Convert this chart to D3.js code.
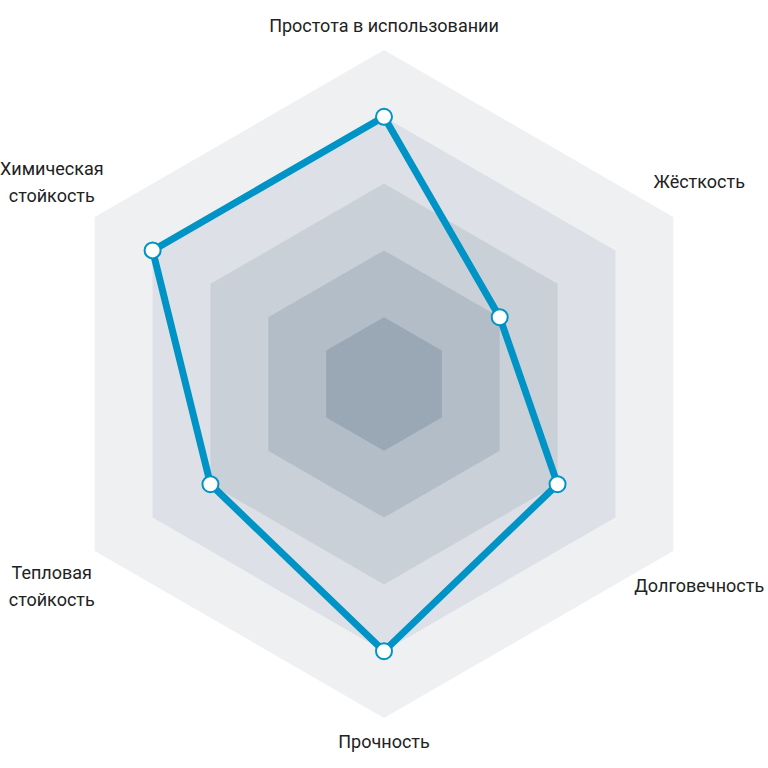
<!DOCTYPE html>
<html>
<head>
<meta charset="utf-8">
<script src="https://cdn.jsdelivr.net/npm/d3@7"></script>
<style>
  html, body { margin: 0; padding: 0; background: #fff; }
  svg { display: block; }
  text { font-family: Roboto, "Noto Sans", sans-serif; font-size: 18px; fill: #222; }
</style>
</head>
<body>
<svg width="768" height="768"></svg>
<script>
// Axes, clockwise from the top
let axes = [
    ["Простота в использовании"],
    ["Жёсткость"],
    ["Долговечность"],
    ["Прочность"],
    ["Тепловая", "стойкость"],
    ["Химическая", "стойкость"]
];

// Scores on a 0..5 scale
let values = [4, 2, 3, 4, 3, 4];

// Rings of the grid
let levels = [5, 4, 3, 2, 1];
let levelColors = ["#eff0f2", "#dde1e7", "#c9d0d8", "#b3bdc8", "#9aa8b6"];

let svg = d3.select("svg"),
    width = +svg.attr("width"),
    height = +svg.attr("height");

let cx = 384, cy = 384;
let R = 334;

let r = d3.scaleLinear().domain([0, 5]).range([0, R]);
let angle = i => i * 2 * Math.PI / axes.length;

let g = svg.append("g").attr("transform", "translate(" + cx + "," + cy + ")");

// Grid hexagons
let ring = d3.lineRadial()
    .angle((d, i) => angle(i))
    .radius(d => r(d))
    .curve(d3.curveLinearClosed);

g.selectAll("path.level")
    .data(levels)
    .enter().append("path")
    .attr("class", "level")
    .attr("d", d => ring(axes.map(() => d)))
    .attr("fill", (d, i) => levelColors[i]);

// Series outline
g.append("path")
    .attr("d", ring(values))
    .attr("fill", "none")
    .attr("stroke", "#0093c5")
    .attr("stroke-width", 7)
    .attr("stroke-linejoin", "miter");

// Points
g.selectAll("circle")
    .data(values)
    .enter().append("circle")
    .attr("cx", (d, i) => r(d) * Math.sin(angle(i)))
    .attr("cy", (d, i) => -r(d) * Math.cos(angle(i)))
    .attr("r", 8)
    .attr("fill", "#fff")
    .attr("stroke", "#0093c5")
    .attr("stroke-width", 2);

// Axis labels
let labelR = 364;
let lineH = 27;
let labels = g.selectAll("text")
    .data(axes)
    .enter().append("text")
    .attr("text-anchor", "middle")
    .attr("transform", function(d, i) {
        let a = angle(i);
        let s = Math.sin(a), c = Math.cos(a);
        let x = labelR * s, y = -labelR * c;
        if (Math.abs(s) < 0.01) {
            y += c > 0 ? 12 : 0;
        } else {
            x += s < 0 ? -17 : 0;
            y += (c > 0 ? -20 : 20) + 6 - (d.length - 1) * lineH / 2;
        }
        return "translate(" + x + "," + y + ")";
    });

labels.selectAll("tspan")
    .data(d => d)
    .enter().append("tspan")
    .attr("x", 0)
    .attr("dy", (d, i) => i === 0 ? 0 : lineH)
    .text(d => d);
</script>
</body>
</html>
